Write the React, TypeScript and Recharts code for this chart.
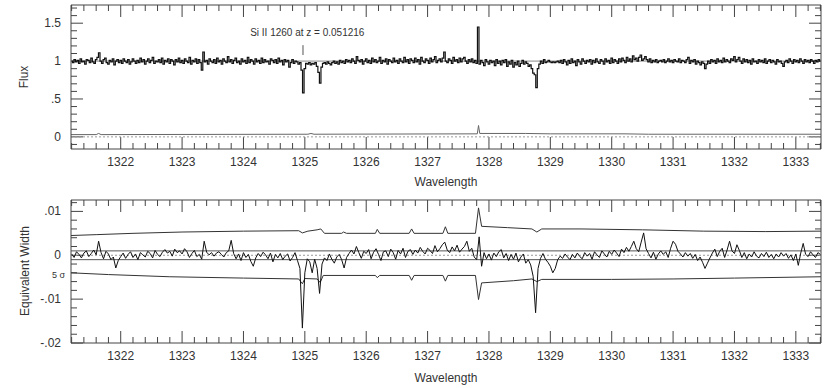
import { ComposedChart, Line, XAxis, YAxis, ReferenceLine, ReferenceDot } from "recharts";

// flux spectrum pixel grid
const WL_START = 1321.2;
const FLUX_STEP = 0.025;
const EW_STEP = 0.04;

const flux = [
  1.0, 0.98, 1.02, 0.99, 1.01, 0.97, 1.03, 0.99, 1.0, 0.96, 1.02, 1.01, 0.98, 1.04, 0.99, 0.97, 1.02, 1.05, 1.11, 1.0,
  0.97, 1.02, 1.04, 0.98, 0.96, 1.01, 0.99, 1.03, 0.95, 1.0, 1.02, 0.98, 1.01, 0.97, 1.03, 1.0, 0.98, 1.02, 0.96, 0.99,
  1.03, 1.0, 0.97, 1.01, 0.98, 1.04, 0.99, 1.02, 0.96, 1.0, 1.03, 0.98, 1.01, 1.05, 0.97, 1.0, 0.99, 1.02, 0.98, 1.04,
  0.96, 1.01, 0.99, 1.03, 0.97, 1.02, 1.0, 0.95, 1.02, 0.99, 1.04, 0.98, 1.01, 0.97, 1.03, 1.0, 0.98, 1.05, 0.96, 1.01,
  0.99, 1.03, 0.97, 1.02, 0.98, 0.88, 1.12, 0.99, 1.01, 0.96, 1.03, 1.0, 0.98, 1.02, 0.97, 1.04, 0.99, 1.01, 0.96, 1.03,
  1.0, 0.98, 1.06, 0.99, 1.02, 0.97, 1.01, 1.04, 0.98, 1.0, 0.96, 1.03, 0.99, 1.01, 0.97, 1.05, 0.98, 1.02, 1.0, 0.96,
  1.03, 0.99, 1.01, 0.97, 1.04, 0.98, 1.02, 0.99, 1.0, 0.96, 1.03, 1.01, 0.98, 1.02, 0.97, 1.04, 0.99, 1.01, 0.95, 1.02,
  0.99, 1.01, 0.92, 0.98, 1.02, 0.97, 1.0, 0.99, 0.96, 0.98, 0.88, 0.58, 0.9, 0.97, 0.96, 0.98, 0.95, 0.97, 0.96, 0.98,
  0.93, 0.85, 0.71, 0.92, 0.97, 0.98, 0.96, 0.99, 0.97, 0.95, 0.98, 1.0, 0.97, 0.99, 0.96, 1.01, 0.98, 1.0, 0.97, 1.02,
  0.99, 1.01, 0.98, 1.03, 1.0, 0.97, 1.06, 1.01, 0.99, 1.02, 0.96, 1.0, 1.03, 0.98, 1.01, 0.97, 1.04, 0.99, 1.02, 0.98,
  1.0, 1.05, 0.97, 1.01, 0.99, 1.03, 0.96, 1.02, 1.0, 0.98, 1.04, 0.99, 1.01, 0.97, 1.03, 1.0, 0.98, 1.05, 0.99, 1.02,
  0.97, 1.03, 1.01, 0.98, 1.04, 0.99, 1.02, 0.96, 1.05, 1.0, 0.98, 1.03, 1.01, 0.97, 1.04, 0.99, 1.02, 1.06, 0.98, 1.01,
  1.03, 0.99, 1.04, 1.12, 1.0, 0.98, 1.03, 1.01, 0.97, 1.05, 1.0, 1.02, 0.98, 1.04, 0.99, 1.03, 1.05, 1.0, 0.97, 1.02,
  0.99, 1.03, 0.98, 1.01, 0.97, 1.45, 0.96, 1.01, 0.98, 0.94, 1.02, 0.99, 0.96, 1.01, 0.98, 1.0, 0.94, 1.02, 0.97, 1.0,
  0.95, 1.01, 0.98, 1.02, 0.93, 0.99, 0.96, 1.01, 0.92, 0.98, 0.95, 1.0, 0.93, 0.97, 1.01, 0.96, 0.99, 0.97, 0.93, 0.95,
  0.9, 0.84, 0.82, 0.65, 0.9, 0.96, 1.0, 0.97, 1.02, 0.98, 0.99, 1.01, 0.99, 0.98, 0.99, 0.98, 0.99, 1.0, 0.98, 1.01,
  0.97, 1.02, 0.99, 0.95, 1.01, 0.97, 1.03, 0.98, 1.0, 0.94, 1.02, 0.99, 0.96, 1.03, 1.0, 0.97, 1.01, 0.99, 1.02, 0.96,
  1.01, 0.98, 1.03, 0.99, 0.97, 1.02, 1.0, 0.96, 1.03, 0.99, 1.01, 0.97, 1.04, 0.98, 1.02, 1.0, 0.97, 1.03, 0.99, 1.04,
  1.01, 0.98, 1.05, 1.0, 1.03, 0.99, 1.07, 1.02, 1.04, 1.0, 1.05, 1.08, 1.01, 1.03, 1.06, 1.02, 0.99, 1.03, 0.98, 1.01,
  0.99, 1.02, 0.98, 1.0, 1.01, 0.99, 1.02, 0.98, 1.0, 1.03, 0.99, 1.01, 0.98, 1.02, 1.0, 0.99, 1.03, 0.98, 1.01, 1.0,
  0.98, 1.02, 1.05, 0.97, 1.01, 0.99, 1.02, 0.96, 1.0, 0.98, 0.95, 0.99, 0.97, 0.9, 0.96, 1.0, 0.97, 1.02, 0.99, 1.01,
  0.97, 1.03, 0.99, 1.01, 0.98, 1.04, 0.99, 1.02, 1.0, 0.98, 1.03, 1.01, 1.06, 0.99, 1.02, 1.05, 1.0, 0.97, 1.03, 0.99,
  1.02, 0.98, 1.01, 0.96, 1.03, 0.99, 1.0, 0.97, 1.02, 0.99, 1.01, 0.98, 1.03, 0.97, 1.0, 1.02, 0.98, 1.01, 0.99, 0.96,
  1.02, 0.99, 1.0, 0.97, 0.93, 0.99, 1.01, 0.98, 1.03, 1.0, 0.97, 1.02, 0.99, 1.01, 0.98, 1.03, 1.0, 0.97, 1.02, 0.99,
  1.01, 0.98, 1.02, 1.0, 0.97, 1.01, 0.99, 1.02, 1.0,
];

// equivalent width, in units of 0.001
const ewMilli = [
  0.3, -0.5, 0.8, 0.2, -0.6, 0.5, 1.0, -0.3, 0.4, 1.2, 0.1, 3.2, 0.6, -0.8, 0.9, 0.3, -1.0, -0.4, -2.9, -1.2,
  -0.3, 0.5, -0.7, 0.2, 0.8, -0.5, 0.3, -1.0, 0.6, 0.1, -0.4, 0.9, 0.4, -0.6, 1.1, 0.2, -0.3, 0.7, 1.3, 0.5,
  0.9, -0.2, 1.4, 0.6, 1.0, 0.3, 1.5, 0.8, -0.5, 0.4, 1.1, -0.3, 0.2, -0.9, 3.2, 0.7, 0.1, 0.6, -0.2, 0.5,
  0.8, 0.2, -0.4, 0.6, 1.0, 3.4, 0.4, -0.8, 0.3, -1.2, 0.6, -0.5, 0.2, -1.4, -2.5, -0.6, 0.4, -0.3, 0.7, 0.1,
  -0.8, 0.5, -1.5, 0.2, -0.6, 0.4, -1.0, -0.2, 0.3, -1.3, -0.5, 0.6, -1.2, -3.0, -16.6, -4.0, -0.8, -1.5, -4.0, -0.9,
  -3.0, -8.7, -2.0, -0.6, -1.2, 0.3, -0.9, -1.8, -0.4, 0.2, -1.0, -2.9, -0.5, 0.4, 1.2, 0.3, 2.0, 0.6, -0.7, 0.9,
  0.4, 1.3, -0.8, 0.7, 1.5, 0.2, -1.2, 0.8, 1.0, -0.3, 1.4, 0.6, -0.9, 1.1, 0.3, 1.6, -0.5, 0.9, 1.3, 0.2,
  1.2, 0.5, 1.8, 0.9, 0.3, 1.6, 1.1, 0.4, 2.2, 0.8, 1.5, 2.4, 3.0, 1.2, 0.6, 1.9, 1.0, 2.3, 0.7, 1.4,
  2.0, 3.2, 0.9, 1.6, -0.4, -1.0, 4.2, -2.5, 0.6, -0.8, 0.3, -1.1, 0.5, -0.3, 0.8, 1.3, -0.6, 0.4, -1.2, 0.2,
  -0.9, 0.5, -1.5, -0.4, 0.3, -1.8, -1.0, -2.2, -4.8, -13.1, -3.0, -0.7, 0.4, -0.9, -1.6, -2.5, -4.0, -3.0, -1.0, -0.2,
  -0.7, 0.3, -0.4, -1.0, 0.2, -0.6, 0.5, -0.3, -0.8, 0.6, -0.2, 0.4, -0.9, 0.8, 0.1, -0.5, 1.0, 0.3, -0.4, 0.9,
  0.2, 1.2, 0.5, -0.3, 1.4, 0.6, 1.8, 0.9, 2.0, 3.2, 1.5, 0.8, 3.0, 5.1, 1.5, 0.4, -0.6, 0.7, -0.9, 0.3,
  1.0, 0.2, 0.8, -0.5, 1.6, 3.2, 2.5, 0.9, 0.3, -0.4, 0.6, -0.2, 0.4, -0.7, 0.2, -1.2, -0.4, -1.6, -3.0, -1.8,
  -0.6, 0.5, 1.4, -0.3, 0.9, 1.6, -0.5, 1.2, 3.2, 1.0, 0.4, 2.4, 1.1, -0.5, 0.6, -0.8, 0.3, -0.4, 0.8, -0.2,
  -0.6, 0.4, -0.3, 0.7, -0.5, 0.2, -0.8, 0.3, -0.4, 0.6, -0.2, 0.4, -0.7, 0.1, -1.2, 0.3, -2.3, 0.5, 2.7, 0.2,
  -0.3, 0.8, 0.1, -0.5, 0.6, 0.2,
];

// flux error array
const errWl = [1321.19, 1321.6, 1321.64, 1321.68, 1325.05, 1325.1, 1325.15, 1327.81, 1327.83, 1327.85, 1328.6, 1329.0, 1330.2, 1330.6, 1333.41];
const errFlux = [0.03, 0.03, 0.045, 0.03, 0.035, 0.045, 0.035, 0.04, 0.15, 0.045, 0.045, 0.04, 0.04, 0.035, 0.035];

// +5 sigma detection limit (units of 0.001)
const upWl = [
  1321.19, 1321.6, 1322.2, 1323.0, 1324.0, 1324.9, 1324.96, 1325.05, 1325.2, 1325.26, 1325.32, 1325.6, 1325.63, 1325.68,
  1326.15, 1326.18, 1326.22, 1326.7, 1326.74, 1326.78, 1327.25, 1327.29, 1327.33, 1327.78, 1327.83, 1327.88, 1328.3,
  1328.7, 1328.78, 1328.86, 1329.5, 1330.5, 1331.5, 1332.5, 1333.41,
];
const upMilli = [
  4.5, 4.7, 5.0, 5.3, 5.5, 5.6, 5.1, 5.5, 5.8, 6.0, 5.0, 5.0, 5.3, 5.0,
  5.0, 5.9, 5.0, 5.0, 6.0, 5.0, 5.0, 6.5, 5.0, 5.0, 10.8, 6.6, 6.3,
  6.0, 5.3, 6.0, 6.0, 5.8, 5.5, 5.4, 5.5,
];

// -5 sigma detection limit (units of 0.001)
const loWl = [
  1321.19, 1321.8, 1322.8, 1324.0, 1324.9, 1324.96, 1325.0, 1325.2, 1325.25, 1325.3, 1326.15, 1326.18, 1326.22,
  1326.7, 1326.74, 1326.78, 1327.25, 1327.29, 1327.33, 1327.78, 1327.83, 1327.88, 1328.4, 1328.7, 1328.78, 1328.86,
  1330.0, 1331.0, 1332.0, 1333.41,
];
const loMilli = [
  -4.0, -4.4, -4.9, -5.2, -5.4, -6.5, -5.3, -5.4, -6.2, -4.6, -4.6, -5.1, -4.6,
  -4.6, -5.7, -4.6, -4.6, -5.9, -4.6, -4.6, -10.1, -6.3, -5.8, -5.4, -6.0, -5.5,
  -5.5, -5.4, -5.2, -4.9,
];

const ONE_SIGMA = 0.001;

const wlMajor = [1322, 1323, 1324, 1325, 1326, 1327, 1328, 1329, 1330, 1331, 1332, 1333];
const fluxMajor = [0, 0.5, 1, 1.5];
const fluxLabels = ["0", ".5", "1", "1.5"];
const ewMajor = [-0.02, -0.01, 0, 0.01];
const ewLabels = ["-.02", "-.01", "0", ".01"];

const WL_DOMAIN = [1321.19, 1333.41];
const FLUX_DOMAIN = [-0.16, 1.74];
const EW_DOMAIN = [-0.02, 0.0126];

const wlTicks = Array.from({ length: 62 }, (_, i) => (13212 + 2 * i) / 10);
const fluxTicks = Array.from({ length: 19 }, (_, i) => (i - 1) / 10);
const ewTicks = Array.from({ length: 17 }, (_, i) => (-20 + 2 * i) / 1000);

const fluxData = flux.map((f, i) => ({ wl: WL_START + i * FLUX_STEP, f }));
const ewData = ewMilli.map((v, i) => ({ wl: WL_START + i * EW_STEP, ew: v / 1000 }));
const errData = errWl.map((wl, i) => ({ wl, e: errFlux[i] }));
const upData = upWl.map((wl, i) => ({ wl, s: upMilli[i] / 1000 }));
const loData = loWl.map((wl, i) => ({ wl, s: loMilli[i] / 1000 }));

const FRAME = "#444";
const TEXT = "#333";
const FONT = "'Liberation Sans', Arial, sans-serif";
const MINOR = 6;
const MAJOR = 12;
const PLOT_W = 750;

const findMajor = (v: number, majors: number[]) => majors.findIndex((m) => Math.abs(m - v) < 1e-7);

const XLabel = (props: any) => {
  const { x, y, payload } = props;
  const idx = findMajor(payload.value, wlMajor);
  if (idx < 0) return <g />;
  return (
    <text x={x} y={y + 17} textAnchor="middle" fontSize={12} fill={TEXT} fontFamily={FONT}>
      {wlMajor[idx]}
    </text>
  );
};

const makeYLabel = (majors: number[], labels: string[]) => (props: any) => {
  const { x, y, payload } = props;
  const idx = findMajor(payload.value, majors);
  if (idx < 0) return <g />;
  return (
    <text x={x - 10} y={y + 4} textAnchor="end" fontSize={12} fill={TEXT} fontFamily={FONT}>
      {labels[idx]}
    </text>
  );
};

const fluxLabel = makeYLabel(fluxMajor, fluxLabels);
const ewLabel = makeYLabel(ewMajor, ewLabels);

// inward tick marks on all four sides of the frame, lengths given in pixels
function frameTicks(yDomain: number[], yTicks: number[], yMajors: number[], plotH: number) {
  const [x0, x1] = WL_DOMAIN;
  const [y0, y1] = yDomain;
  const dx = (x1 - x0) / PLOT_W;
  const dy = (y1 - y0) / plotH;
  const out: any[] = [];
  wlTicks.forEach((v) => {
    const len = (findMajor(v, wlMajor) >= 0 ? MAJOR : MINOR) * dy;
    out.push(
      <ReferenceLine key={"xb" + v} xAxisId="b" yAxisId="l" ifOverflow="visible" stroke={FRAME} strokeWidth={1}
        segment={[{ x: v, y: y0 }, { x: v, y: y0 + len }]} />,
      <ReferenceLine key={"xt" + v} xAxisId="b" yAxisId="l" ifOverflow="visible" stroke={FRAME} strokeWidth={1}
        segment={[{ x: v, y: y1 }, { x: v, y: y1 - len }]} />,
    );
  });
  yTicks.forEach((v) => {
    const len = (findMajor(v, yMajors) >= 0 ? MAJOR : MINOR) * dx;
    out.push(
      <ReferenceLine key={"yl" + v} xAxisId="b" yAxisId="l" ifOverflow="visible" stroke={FRAME} strokeWidth={1}
        segment={[{ x: x0, y: v }, { x: x0 + len, y: v }]} />,
      <ReferenceLine key={"yr" + v} xAxisId="b" yAxisId="l" ifOverflow="visible" stroke={FRAME} strokeWidth={1}
        segment={[{ x: x1, y: v }, { x: x1 - len, y: v }]} />,
    );
  });
  return out;
}

const MARGIN = { top: 0, right: 0, bottom: 0, left: 0 };

function FluxPanel() {
  return (
    <ComposedChart width={830} height={194} margin={MARGIN}>
      <XAxis xAxisId="b" type="number" dataKey="wl" domain={WL_DOMAIN} allowDataOverflow ticks={wlTicks} interval={0}
        height={45} tickSize={0} tickMargin={0} tickLine={false} axisLine={{ stroke: FRAME }} tick={XLabel} />
      <XAxis xAxisId="t" orientation="top" type="number" dataKey="wl" domain={WL_DOMAIN} allowDataOverflow
        height={5} tick={false} tickLine={false} axisLine={{ stroke: FRAME }} />
      <YAxis yAxisId="l" type="number" domain={FLUX_DOMAIN} allowDataOverflow ticks={fluxTicks} interval={0} width={71}
        tickSize={0} tickMargin={0} tickLine={false} axisLine={{ stroke: FRAME }} tick={fluxLabel} />
      <YAxis yAxisId="r" orientation="right" type="number" domain={FLUX_DOMAIN} allowDataOverflow
        width={9} tick={false} tickLine={false} axisLine={{ stroke: FRAME }} />
      {frameTicks(FLUX_DOMAIN, fluxTicks, fluxMajor, 144)}
      <ReferenceLine xAxisId="b" yAxisId="l" y={1} stroke="#888" strokeWidth={1} />
      <ReferenceLine xAxisId="b" yAxisId="l" y={0} stroke="#999" strokeDasharray="2 2" strokeWidth={1} />
      <Line xAxisId="b" yAxisId="l" data={errData} dataKey="e" type="linear" stroke="#666" strokeWidth={1} dot={false}
        isAnimationActive={false} />
      <Line xAxisId="b" yAxisId="l" data={fluxData} dataKey="f" type="step" stroke="#111" strokeWidth={1.2} dot={false}
        isAnimationActive={false} />
      <ReferenceLine
        xAxisId="b"
        yAxisId="l"
        segment={[
          { x: 1324.97, y: 1.08 },
          { x: 1324.97, y: 1.21 },
        ]}
        stroke="#555"
      />
      <ReferenceDot
        xAxisId="b"
        yAxisId="l"
        x={1325.04}
        y={1.38}
        r={0}
        stroke="none"
        fill="none"
        label={{ value: "Si II 1260 at z = 0.051216", position: "center", fontSize: 10, fill: TEXT, fontFamily: FONT }}
      />
    </ComposedChart>
  );
}

function EwPanel() {
  return (
    <ComposedChart width={830} height={194} margin={MARGIN}>
      <XAxis xAxisId="b" type="number" dataKey="wl" domain={WL_DOMAIN} allowDataOverflow ticks={wlTicks} interval={0}
        height={45} tickSize={0} tickMargin={0} tickLine={false} axisLine={{ stroke: FRAME }} tick={XLabel} />
      <XAxis xAxisId="t" orientation="top" type="number" dataKey="wl" domain={WL_DOMAIN} allowDataOverflow
        height={6} tick={false} tickLine={false} axisLine={{ stroke: FRAME }} />
      <YAxis yAxisId="l" type="number" domain={EW_DOMAIN} allowDataOverflow ticks={ewTicks} interval={0} width={71}
        tickSize={0} tickMargin={0} tickLine={false} axisLine={{ stroke: FRAME }} tick={ewLabel} />
      <YAxis yAxisId="r" orientation="right" type="number" domain={EW_DOMAIN} allowDataOverflow
        width={9} tick={false} tickLine={false} axisLine={{ stroke: FRAME }} />
      {frameTicks(EW_DOMAIN, ewTicks, ewMajor, 143)}
      <ReferenceLine xAxisId="b" yAxisId="l" y={0} stroke="#999" strokeDasharray="2 2" strokeWidth={1} />
      <ReferenceLine xAxisId="b" yAxisId="l" y={ONE_SIGMA} stroke="#555" strokeWidth={1} />
      <ReferenceLine xAxisId="b" yAxisId="l" y={-ONE_SIGMA} stroke="#555" strokeWidth={1} />
      <Line xAxisId="b" yAxisId="l" data={upData} dataKey="s" type="linear" stroke="#333" strokeWidth={1} dot={false}
        isAnimationActive={false} />
      <Line xAxisId="b" yAxisId="l" data={loData} dataKey="s" type="linear" stroke="#333" strokeWidth={1} dot={false}
        isAnimationActive={false} />
      <Line xAxisId="b" yAxisId="l" data={ewData} dataKey="ew" type="linear" stroke="#111" strokeWidth={1} dot={false}
        isAnimationActive={false} />
    </ComposedChart>
  );
}

export default function App() {
  return (
    <div style={{ position: "absolute", left: 0, top: 0, width: 830, height: 388, background: "#fff" }}>
      <FluxPanel />
      <EwPanel />
      <svg width={830} height={388} style={{ position: "absolute", left: 0, top: 0, pointerEvents: "none" }}>
        <g fontFamily={FONT} fill={TEXT} fontSize={12}>
          <text x={28} y={77} textAnchor="middle" transform="rotate(-90 28 77)">
            Flux
          </text>
          <text x={446} y={186} textAnchor="middle">
            Wavelength
          </text>
          <text x={29} y={271} textAnchor="middle" transform="rotate(-90 29 271)">
            Equivalent Width
          </text>
          <text x={446} y={382} textAnchor="middle">
            Wavelength
          </text>
          <text x={65} y={278} textAnchor="end" fontSize={9}>
            5 σ
          </text>
        </g>
      </svg>
    </div>
  );
}
